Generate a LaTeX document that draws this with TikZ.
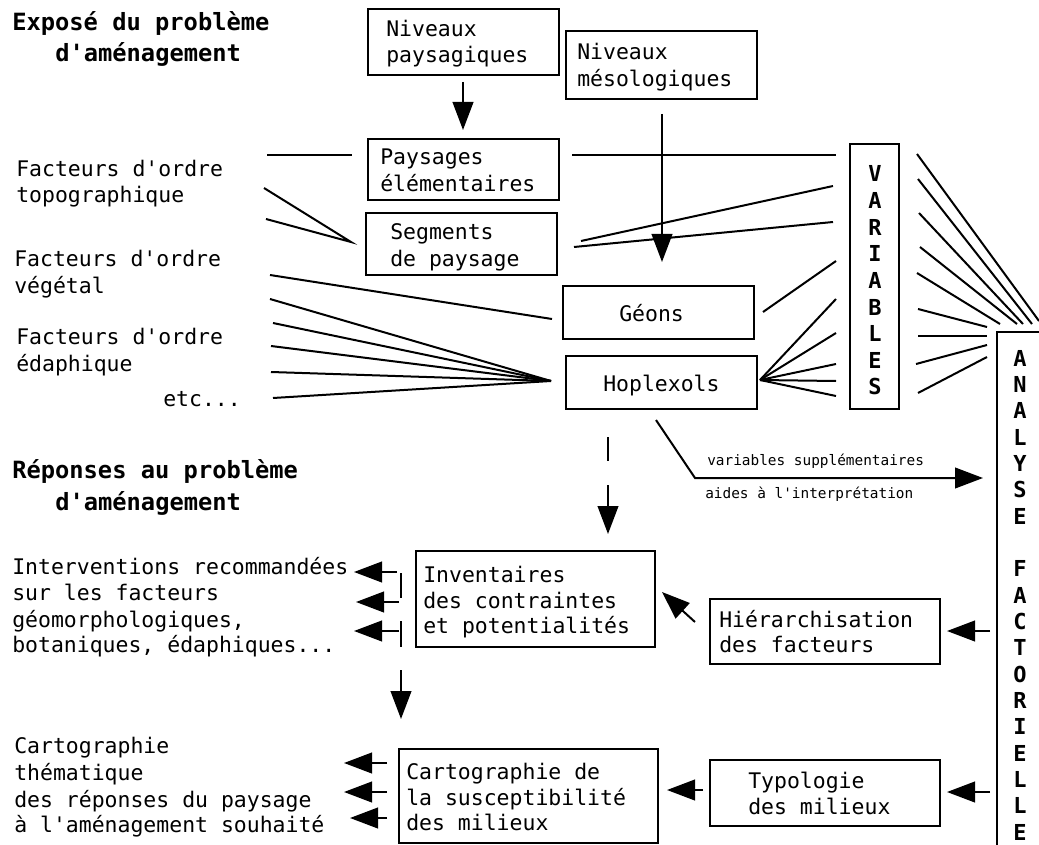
\documentclass[tikz,border=0pt]{standalone}
\usepackage{fontspec}
\usetikzlibrary{arrows.meta}
\newfontfamily\monof{DejaVu Sans Mono}
\tikzset{
 box/.style={draw, line width=1.5pt, inner sep=0, outer sep=0, anchor=north west},
 txt/.style={anchor=base west, inner sep=0, font=\monof\fontsize{16.1}{20}\selectfont},
 head/.style={anchor=base west, inner sep=0, font=\monof\bfseries\fontsize{17.8}{22}\selectfont},
 small/.style={anchor=base west, inner sep=0, font=\monof\fontsize{10.8}{13}\selectfont},
 vlet/.style={anchor=base, inner sep=0, font=\monof\bfseries\fontsize{16.5}{20}\selectfont},
 ln/.style={line width=1.5pt},
 arr/.style={line width=1.5pt, -{Triangle[length=21pt,width=15.5pt]}},
}
\begin{document}
\begin{tikzpicture}[x=0.75pt,y=-0.75pt]
\useasboundingbox[fill=white] (0,0) rectangle (1039,845);
% headings
\node[head] (h1) at (12,31) {Exposé du problème};
\node[head] (h2) at (55,62) {d'aménagement};
\node[head] (h3) at (12,478) {Réponses au problème};
\node[head] (h4) at (55,510) {d'aménagement};
% left texts
\node[txt] (f1a) at (16,177) {Facteurs d'ordre};
\node[txt] (f1b) at (16,203) {topographique};
\node[txt] (f2a) at (14,266) {Facteurs d'ordre};
\node[txt] (f2b) at (14,293) {végétal};
\node[txt] (f3a) at (16,344) {Facteurs d'ordre};
\node[txt] (f3b) at (16,371) {édaphique};
\node[txt] (f4) at (163,406) {etc...};
\node[txt] (i1) at (12,574) {Interventions recommandées};
\node[txt] (i2) at (12,600) {sur les facteurs};
\node[txt] (i3) at (12,627) {géomorphologiques,};
\node[txt] (i4) at (12,652) {botaniques, édaphiques...};
\node[txt] (c1) at (14,753) {Cartographie};
\node[txt] (c2) at (14,780) {thématique};
\node[txt] (c3) at (14,807) {des réponses du paysage};
\node[txt] (c4) at (14,832) {à l'aménagement souhaité};
% boxes
\node[box, minimum width=143.25pt, minimum height=49.5pt] (np) at (368,9) {};
\node[box, minimum width=143.25pt, minimum height=51pt] (nm) at (566,31) {};
\node[box, minimum width=143.25pt, minimum height=45.75pt] (pe) at (368,139) {};
\node[box, minimum width=143.25pt, minimum height=46.5pt] (sp) at (366,213) {};
\node[box, minimum width=143.25pt, minimum height=39.75pt] (ge) at (563,286) {};
\node[box, minimum width=143.25pt, minimum height=39.75pt] (ho) at (566,356) {};
\node[box, minimum width=36.75pt, minimum height=198.75pt] (va) at (850,144) {};
\node[box, minimum width=179.25pt, minimum height=72pt] (inv) at (416,551) {};
\node[box, minimum width=172.5pt, minimum height=48.75pt] (hie) at (710,599) {};
\node[box, minimum width=194.25pt, minimum height=70.5pt] (car) at (399,749) {};
\node[box, minimum width=172.5pt, minimum height=49.5pt] (typ) at (710,760) {};
\draw[ln] (1045,332) -- (997,332) -- (997,852);
% box texts
\node[txt] (np1) at (386,37) {Niveaux};
\node[txt] (np2) at (386,63) {paysagiques};
\node[txt] (nm1) at (577,60) {Niveaux};
\node[txt] (nm2) at (577,87) {mésologiques};
\node[txt] (pe1) at (380,165) {Paysages};
\node[txt] (pe2) at (380,192) {élémentaires};
\node[txt] (sp1) at (390,239) {Segments};
\node[txt] (sp2) at (390,267) {de paysage};
\node[txt] (ge1) at (619,321) {Géons};
\node[txt] (ho1) at (603,391) {Hoplexols};
\node[txt] (inv1) at (423,582) {Inventaires};
\node[txt] (inv2) at (423,608) {des contraintes};
\node[txt] (inv3) at (423,633) {et potentialités};
\node[txt] (hie1) at (719,627) {Hiérarchisation};
\node[txt] (hie2) at (719,652) {des facteurs};
\node[txt] (car1) at (406,779) {Cartographie de};
\node[txt] (car2) at (406,805) {la susceptibilité};
\node[txt] (car3) at (406,830) {des milieux};
\node[txt] (typ1) at (748,788) {Typologie};
\node[txt] (typ2) at (748,814) {des milieux};
\node[small] (s1) at (707,465) {variables supplémentaires};
\node[small] (s2) at (705,498) {aides à l'interprétation};
% vertical letters
\foreach \l [count=\i from 0] in {V,A,R,I,A,B,L,E,S}
  \node[vlet] (v\i) at (875,{182+26.6*\i}) {\l};
\foreach \l [count=\i from 0] in {A,N,A,L,Y,S,E,{},F,A,C,T,O,R,I,E,L,L,E}
  \node[vlet] (a\i) at (1020,{366+26.35*\i}) {\l};
% coordinates
\coordinate (k1) at (352,155); \coordinate (l1) at (267,155);
\coordinate (k2) at (351,242); \coordinate (l2) at (264,188); \coordinate (l3) at (266,219);
\coordinate (r1a) at (572,155); \coordinate (r1b) at (836,155);
\coordinate (r2a) at (581,241); \coordinate (r2b) at (833,186);
\coordinate (r3a) at (574,247); \coordinate (r3b) at (833,222);
\coordinate (g1a) at (270,275); \coordinate (g1b) at (552,319);
\coordinate (hf) at (551,381);
\coordinate (gr1) at (763,312); \coordinate (gr2) at (836,261);
\coordinate (hr) at (760,380);
% left lines
\draw[ln] (l1) -- (k1);
\draw[ln] (l2) -- (k2) -- (l3);
\draw[ln] (r1a) -- (r1b);
\draw[ln] (r2a) -- (r2b);
\draw[ln] (r3a) -- (r3b);
\draw[ln] (g1a) -- (g1b);
\foreach \x/\y in {270/299,273/323,271/346,271/372,273/398}
  \draw[ln] (\x,\y) -- (hf);
\draw[ln] (gr1) -- (gr2);
\foreach \y in {299,333,364,381,396}
  \draw[ln] (hr) -- (836,\y);
% VARIABLES -> ANALYSE
\foreach \xa/\ya/\xb/\yb in {917/154/1039/321, 918/179/1032/324, 919/213/1023/324, 920/247/1017/324, 917/273/1000/324, 918/309/987/327, 918/336/987/336, 916/364/987/345, 918/393/987/357}
  \draw[ln] (\xa,\ya) -- (\xb,\yb);
% arrows
\coordinate (a1s) at (463,82); \coordinate (a1e) at (463,130);
\draw[arr] (a1s) -- (a1e);
\coordinate (a2s) at (662,114); \coordinate (a2e) at (662,262);
\draw[arr] (a2s) -- (a2e);
\coordinate (d1) at (608,437); \coordinate (d2) at (608,461);
\coordinate (d3) at (608,485); \coordinate (d4) at (608,534);
\draw[ln] (d1) -- (d2);
\draw[arr] (d3) -- (d4);
\coordinate (b1) at (656,420); \coordinate (b2) at (695,478); \coordinate (b3) at (983,478);
\draw[arr] (b1) -- (b2) -- (b3);
\draw[arr] (990,631) -- (947,631);
\draw[arr] (990,792) -- (947,792);
\draw[arr] (703,790) -- (667,790);
\draw[arr] (695,622) -- (662,592);
\draw[arr] (397,572) -- (354,572);
\draw[arr] (399,602) -- (356,602);
\draw[arr] (399,631) -- (354,631);
\draw[ln] (401,573) -- (401,598);
\draw[ln] (401,621) -- (401,647);
\draw[arr] (401,670) -- (401,719);
\draw[arr] (387,763) -- (344,763);
\draw[arr] (387,792) -- (344,792);
\draw[arr] (387,818) -- (350,818);
\end{tikzpicture}
\end{document}
